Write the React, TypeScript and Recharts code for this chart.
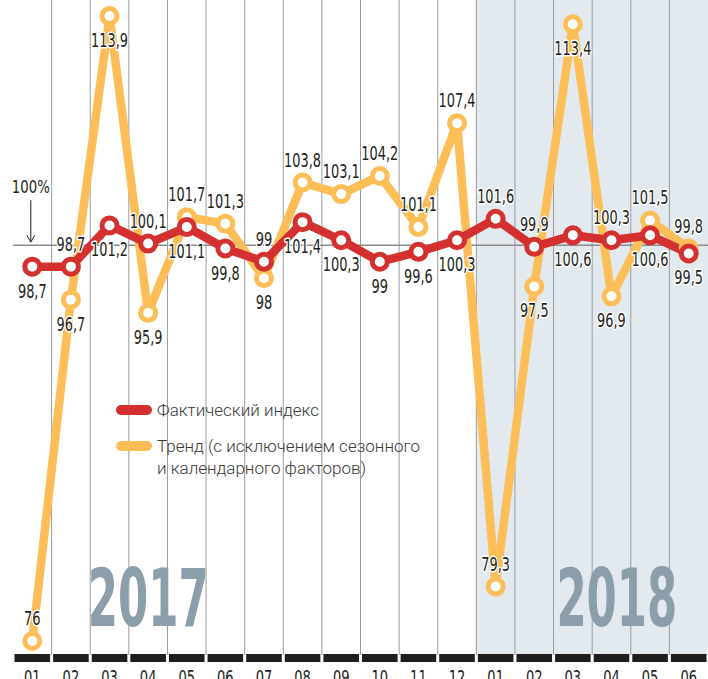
import React from 'react';
import {
  ComposedChart,
  Line,
  XAxis,
  YAxis,
  ReferenceLine,
  ReferenceArea,
  ReferenceDot,
  LabelList,
  Legend,
} from 'recharts';

const months = ['01', '02', '03', '04', '05', '06', '07', '08', '09', '10', '11', '12', '01', '02', '03', '04', '05', '06'];
const actualIndex = [98.7, 98.7, 101.2, 100.1, 101.1, 99.8, 99, 101.4, 100.3, 99, 99.6, 100.3, 101.6, 99.9, 100.6, 100.3, 100.6, 99.5];
const trendIndex = [76, 96.7, 113.9, 95.9, 101.7, 101.3, 98, 103.8, 103.1, 104.2, 101.1, 107.4, 79.3, 97.5, 113.4, 96.9, 101.5, 99.8];
const years = ['2017', '2018'];

// where each value label sits: t = above the point, b = below
const actualSides = ['b', 't', 'b', 't', 'b', 'b', 't', 'b', 'b', 'b', 'b', 'b', 't', 't', 'b', 't', 'b', 'b'];
const trendSides = ['t', 'b', 'b', 'b', 't', 't', 'b', 't', 't', 't', 't', 't', 't', 'b', 'b', 'b', 't', 't'];

const RED = '#d3302f';
const YELLOW = '#fdbe58';
const INK = '#231f20';
const SHADE = '#e2eaf0';
const NUM_FONT = '"DejaVu Sans Condensed", "DejaVu Sans", sans-serif';

const data = months.map((m, i) => ({
  idx: i,
  month: m,
  actual: actualIndex[i],
  trend: trendIndex[i],
}));

const boundaries = months.slice(1).map((_, i) => i + 0.5);
const yearMarks = [
  { label: years[0], x: 3, y: 76.9 },
  { label: years[1], x: 15.14, y: 76.9 },
];

const fmt = (v: number) => String(v).replace('.', ',');

// squeeze the numbers to the narrow look of the original
const textLen = (s: string) =>
  [...s].reduce((w, ch) => w + (ch === ',' ? 3.8 : ch === '%' ? 13 : 8.3), 0);

const NumText = ({ x, y, children, halo = false, size = 19.5 }: any) => (
  <text
    x={x}
    y={y}
    textAnchor="middle"
    fontFamily={NUM_FONT}
    fontSize={size}
    textLength={textLen(children)}
    lengthAdjust="spacingAndGlyphs"
    fill={INK}
    stroke={halo ? '#fff' : 'none'}
    strokeWidth={halo ? 3 : 0}
    strokeLinejoin="round"
    paintOrder="stroke"
  >
    {children}
  </text>
);

const makeLabel = (sides: string[]) => (props: any) => {
  const { x, y, value, index } = props;
  const above = sides[index] === 't';
  return (
    <NumText x={x} y={above ? y - 16 : y + 31} halo>
      {fmt(value)}
    </NumText>
  );
};

const MonthTick = (props: any) => {
  const { x, y, payload } = props;
  return (
    <g>
      <rect x={x - 17.8} y={y - 1} width={35.6} height={8} fill="#1f1d1e" />
      <NumText x={x} y={y + 29} size={20}>
        {months[payload.value]}
      </NumText>
    </g>
  );
};

const HundredMark = (props: any) => {
  const { cx, cy } = props;
  const ax = cx - 1.5;
  return (
    <g>
      <NumText x={ax} y={cy - 52} size={17}>
        100%
      </NumText>
      <line x1={ax} y1={cy - 45} x2={ax} y2={cy - 4} stroke={INK} strokeWidth={1} />
      <path d={`M${ax - 4},${cy - 10} L${ax},${cy - 3} L${ax + 4},${cy - 10}`} fill="none" stroke={INK} strokeWidth={1} />
    </g>
  );
};

const YearMark = (label: string) => (props: any) => (
  <text
    x={props.cx}
    y={props.cy}
    textAnchor="middle"
    fontFamily={NUM_FONT}
    fontWeight="bold"
    fontSize={81}
    textLength={121}
    lengthAdjust="spacingAndGlyphs"
    fill="#8b9eaa"
  >
    {label}
  </text>
);

const legendItems = [
  { color: RED, lines: ['Фактический индекс'] },
  { color: YELLOW, lines: ['Тренд (с исключением сезонного', 'и календарного факторов)'] },
];

const LegendBox = () => (
  <div style={{ fontFamily: 'Roboto, sans-serif', fontWeight: 300, fontSize: 17, color: '#3a3a3a', lineHeight: '22px' }}>
    {legendItems.map((item) => (
      <div key={item.lines[0]} style={{ display: 'flex', alignItems: 'flex-start', marginBottom: 14 }}>
        <span
          style={{ width: 36, height: 10, borderRadius: 5, background: item.color, marginTop: 6, marginRight: 5, flex: 'none' }}
        />
        <span>
          {item.lines.map((l) => (
            <div key={l}>{l}</div>
          ))}
        </span>
      </div>
    ))}
  </div>
);

export default function App() {
  return (
    <div style={{ position: 'absolute', left: 0, top: 0, background: '#fff' }}>
      <ComposedChart width={708} height={679} data={data} margin={{ top: 0, right: 0, bottom: 0, left: 13 }}>
        <XAxis
          dataKey="idx"
          type="number"
          domain={[-0.5, 17.5]}
          ticks={data.map((d) => d.idx)}
          interval={0}
          axisLine={false}
          tickLine={false}
          tickSize={0}
          tickMargin={0}
          height={24}
          tick={<MonthTick />}
          allowDataOverflow
        />
        <YAxis hide type="number" domain={[75.15, 114.87]} allowDataOverflow />
        <ReferenceArea x1={11.5} x2={17.5} fill={SHADE} fillOpacity={1} stroke="none" />
        {yearMarks.map((ym) => (
          <ReferenceDot key={ym.label} x={ym.x} y={ym.y} shape={YearMark(ym.label)} />
        ))}
        {boundaries.map((b) => (
          <ReferenceLine key={b} x={b} stroke="#9b9b9b" strokeWidth={1} />
        ))}
        <ReferenceLine y={100} stroke="#8a8a8a" strokeWidth={1.5} />
        <ReferenceDot x={0} y={100} shape={HundredMark} />
        <Line
          dataKey="trend"
          stroke={YELLOW}
          strokeWidth={8.5}
          strokeLinejoin="round"
          dot={{ r: 7.5, fill: '#fff', stroke: YELLOW, strokeWidth: 5 }}
          activeDot={false}
          isAnimationActive={false}
        >
          <LabelList dataKey="trend" content={makeLabel(trendSides)} />
        </Line>
        <Line
          dataKey="actual"
          stroke={RED}
          strokeWidth={8.5}
          strokeLinejoin="round"
          dot={{ r: 7.5, fill: '#fff', stroke: RED, strokeWidth: 5 }}
          activeDot={false}
          isAnimationActive={false}
        >
          <LabelList dataKey="actual" content={makeLabel(actualSides)} />
        </Line>
        <Legend
          layout="horizontal"
          verticalAlign="middle"
          align="center"
          content={<LegendBox />}
          wrapperStyle={{ left: 116, top: 399, width: 360 }}
        />
      </ComposedChart>
    </div>
  );
}
